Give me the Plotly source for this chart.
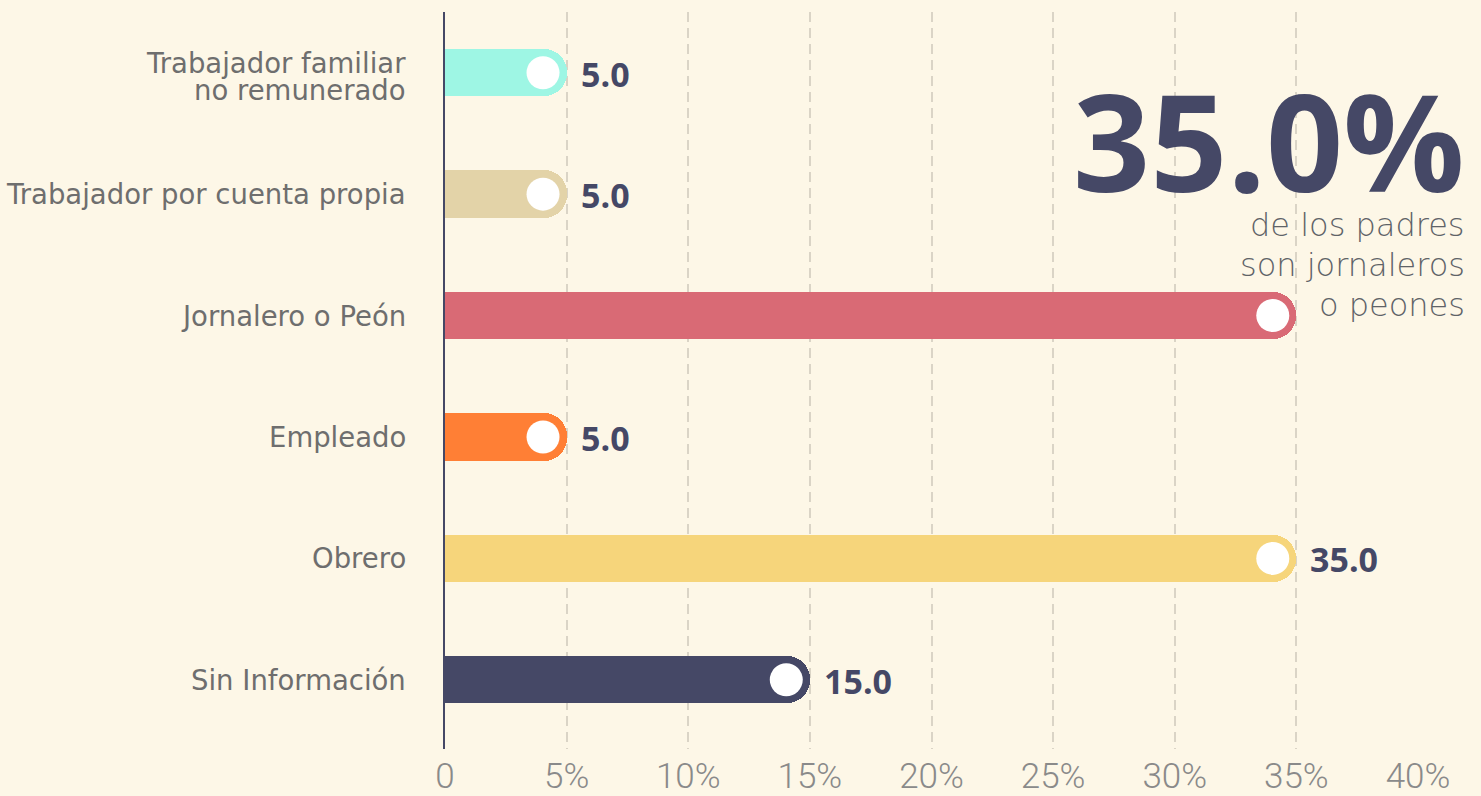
import plotly.graph_objects as go

categories = ["Trabajador familiar<br>no remunerado", "Trabajador por cuenta propia",
              "Jornalero o Peón", "Empleado", "Obrero", "Sin Información"]
values = [5.0, 5.0, 35.0, 5.0, 35.0, 15.0]
value_labels = ["5.0", "5.0", "", "5.0", "35.0", "15.0"]
colors = ["#9ef6e4", "#e3d3a8", "#d96a75", "#ff7f35", "#f6d57b", "#454866"]
tick_vals = [0, 5, 10, 15, 20, 25, 30, 35, 40]
tick_text = ["0", "5%", "10%", "15%", "20%", "25%", "30%", "35%", "40%"]
headline = "35.0%"
subtitle_lines = ["de los padres", "son jornaleros", "o peones"]

NAVY = "#454866"
BG = "#fdf7e7"
FONT = "Open Sans"
LABEL_FONT = "DejaVu Sans"

fig = go.Figure()
fig.add_trace(go.Bar(
    x=values, y=categories, orientation="h",
    marker=dict(color=colors, cornerradius=23, line=dict(width=0)),
    width=0.39, hoverinfo="skip", showlegend=False,
))
fig.add_trace(go.Scatter(
    x=[v - 0.97 for v in values], y=categories, mode="markers",
    marker=dict(color="white", size=33, line=dict(width=0)),
    hoverinfo="skip", showlegend=False, cliponaxis=False,
))
for v, c, lab in zip(values, categories, value_labels):
    if lab:
        fig.add_annotation(x=v, y=c, xref="x", yref="y", text=lab,
                           showarrow=False, xanchor="left", yanchor="middle", xshift=12, yshift=-1,
                           font=dict(family=FONT, size=34, color=NAVY, weight="bold"))

# category labels (as annotations for tight line spacing)
for c in categories:
    lines = c.split("<br>")
    n = len(lines)
    for i, line in enumerate(lines):
        fig.add_annotation(x=0, y=c, xref="paper", yref="y", text=line,
                           showarrow=False, xanchor="right", yanchor="middle",
                           xshift=-37, yshift=(n - 1) * 9.5 - i * 27,
                           font=dict(family=LABEL_FONT, size=27.5, color="#6e6e6e"))

fig.add_annotation(x=1.05, y=0.826, xref="paper", yref="paper", text=headline,
                   showarrow=False, xanchor="right", yanchor="middle",
                   font=dict(family=FONT, size=135, color=NAVY, weight="bold"))
for i, line in enumerate(subtitle_lines):
    fig.add_annotation(x=1.05, y=0.711, xref="paper", yref="paper", text=line,
                       showarrow=False, xanchor="right", yanchor="middle", yshift=-40 * i,
                       font=dict(family=LABEL_FONT, size=32, color="#5f6367", weight=200))

fig.update_layout(
    width=1481, height=796,
    margin=dict(l=445, r=63, t=12, b=47, autoexpand=False),
    paper_bgcolor=BG, plot_bgcolor=BG,
    bargap=0,
    xaxis=dict(range=[0, 40], tickvals=tick_vals, ticktext=tick_text,
               showgrid=True, gridcolor="#dad4c6", gridwidth=1.5, griddash="10px,6px",
               zeroline=False, showline=False, ticks="", automargin=False,
               tickfont=dict(family="Roboto", size=35, color="#8a8a8a", weight=300),
               ticklabelstandoff=3),
    yaxis=dict(type="category", categoryorder="array", categoryarray=categories,
               range=[5.57, -0.5], showgrid=False, zeroline=False, automargin=False,
               showline=True, linecolor=NAVY, linewidth=2, ticks="",
               showticklabels=False),
)

fig.write_html("out.html", config={"displayModeBar": False},
               post_script="document.body.style.margin='0';document.body.style.overflow='hidden';")
